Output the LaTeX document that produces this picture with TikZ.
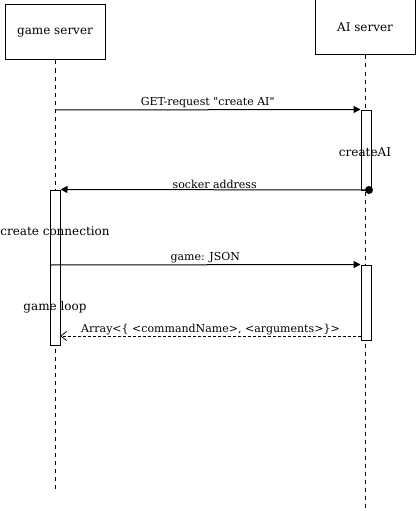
\documentclass[tikz,border=0pt]{standalone}
\usepackage{fontspec}
\setmainfont{DejaVu Serif}
\usetikzlibrary{arrows.meta}
\begin{document}
\begin{tikzpicture}[x=1pt,y=-1pt,
  actor/.style={draw,line width=1pt,minimum width=100pt,minimum height=55pt,inner sep=0pt,font=\fontsize{12}{14}\selectfont},
  act/.style={draw,fill=white,line width=1pt,minimum width=10pt,inner sep=0pt},
  life/.style={dashed,line width=0.8pt,dash pattern=on 4pt off 4pt},
  msg/.style={line width=1pt,-{Triangle[length=7pt,width=7pt]}},
  ret/.style={line width=0.8pt,dash pattern=on 3pt off 2pt,-{Straight Barb[length=6pt,width=9pt]}},
  lbl/.style={font=\fontsize{11}{13}\selectfont,inner sep=1pt},
  big/.style={font=\fontsize{12}{14}\selectfont,inner sep=0pt}]
\useasboundingbox (0,0) rectangle (416,511);
\node[actor] (gs) at (55,32.5) {game server};
\node[actor] (ai) at (365,27.5) {AI server};
\coordinate (gsend) at (55,490);
\coordinate (aiend) at (365,508);
\draw[life] (gs.south) -- (gsend);
\draw[life] (ai.south) -- (aiend);
\node[act,minimum height=80pt] (a1) at (366,150) {};
\node[act,minimum height=155pt] (g1) at (55,267.5) {};
\node[act,minimum height=75pt] (a2) at (366,302.5) {};
\coordinate (dot) at (369,190);
\coordinate (gsget) at (55,110);
\coordinate (gsjson) at (50,265);
\coordinate (aret) at (361,336);
\coordinate (gret) at (60,336);
\draw[msg] (gsget) -- node[lbl,above]{GET-request \textquotedbl create AI\textquotedbl} (a1.north west);
\draw[msg] (dot) -- node[lbl,above]{socker address} (g1.north east);
\fill (dot) circle (4pt);
\draw[msg] (gsjson) -- node[lbl,above]{game: JSON} (a2.north west);
\draw[ret] (aret) -- node[lbl,above]{Array<\{ <commandName>, <arguments>\}>} (gret);
\node[big] (cai) at (365,152) {createAI};
\node[big] (cc) at (55,231) {create connection};
\node[big] (gl) at (55,307) {game loop};
\end{tikzpicture}
\end{document}
